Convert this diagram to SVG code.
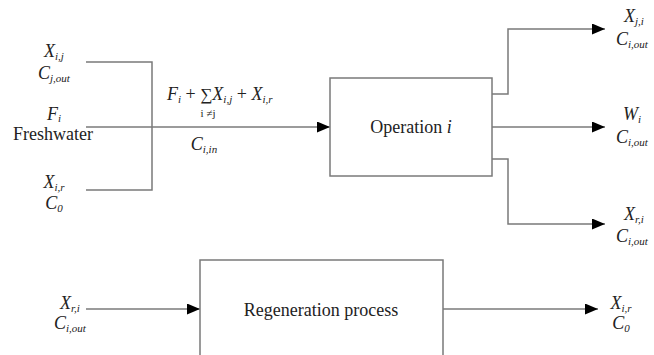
<svg xmlns="http://www.w3.org/2000/svg" width="654" height="355" viewBox="0 0 654 355">
<defs>
<marker id="ah" viewBox="0 0 13 11" refX="13" refY="5.5" markerWidth="13" markerHeight="11" markerUnits="userSpaceOnUse" orient="auto">
<path d="M0,0 L13,5.5 L0,11 Z" fill="#000"/>
</marker>
<style>
.ln{fill:none;stroke:#7a7a7a;stroke-width:1.5}
.bx{fill:#fff;stroke:#7a7a7a;stroke-width:1.5}
text{font-family:"Liberation Serif","Times New Roman",serif;fill:#222}
.v{font-size:18px;font-style:italic;text-anchor:middle}
.n{font-size:18px;text-anchor:middle}
.s{font-size:11px}
</style>
</defs>
<rect width="654" height="355" fill="#fff"/>
<g id="connectors">
<polyline class="ln" points="86,62 152,62 152,190 86,190"/>
<line class="ln" x1="86" y1="127" x2="330" y2="127" marker-end="url(#ah)"/>
<polyline class="ln" points="492,94 508,94 508,29 605,29" marker-end="url(#ah)"/>
<line class="ln" x1="492" y1="127" x2="605" y2="127" marker-end="url(#ah)"/>
<polyline class="ln" points="492,159 508,159 508,224 605,224" marker-end="url(#ah)"/>
<line class="ln" x1="86" y1="309" x2="200" y2="309" marker-end="url(#ah)"/>
<line class="ln" x1="443" y1="309" x2="598" y2="309" marker-end="url(#ah)"/>
</g>
<g id="operation">
<rect class="bx" x="330" y="78" width="162" height="98"/>
<text class="n" x="411" y="133">Operation <tspan font-style="italic">i</tspan></text>
</g>
<g id="regeneration">
<path class="ln" d="M200,357 L200,260 L443,260 L443,357"/>
<text class="n" x="321" y="316">Regeneration process</text>
</g>
<g id="inputs">
<text class="v" x="54" y="57">X<tspan class="s" dy="3">i,j</tspan></text>
<text class="v" x="54" y="79">C<tspan class="s" dy="3">j,out</tspan></text>
<text class="v" x="54" y="120">F<tspan class="s" dy="2">i</tspan></text>
<text class="n" x="53" y="140">Freshwater</text>
<text class="v" x="54" y="188">X<tspan class="s" dy="3">i,r</tspan></text>
<text class="v" x="54" y="209">C<tspan class="s" dy="3">0</tspan></text>
</g>
<g id="mix">
<text font-size="18" x="167" y="100"><tspan font-style="italic">F</tspan><tspan class="s" font-style="italic" dy="3">i</tspan><tspan dy="-3"> + </tspan><tspan font-size="17">∑</tspan><tspan font-style="italic">X</tspan><tspan class="s" font-style="italic" dy="3">i,j</tspan><tspan dy="-3"> + </tspan><tspan font-style="italic">X</tspan><tspan class="s" font-style="italic" dy="3">i,r</tspan></text>
<text font-size="11" x="208" y="117" text-anchor="middle">i ≠j</text>
<text class="v" x="204" y="150">C<tspan class="s" dy="3">i,in</tspan></text>
</g>
<g id="outputs">
<text class="v" x="634" y="22">X<tspan class="s" dy="3">j,i</tspan></text>
<text class="v" x="632" y="45">C<tspan class="s" dy="3">i,out</tspan></text>
<text class="v" x="632" y="120">W<tspan class="s" dy="3">i</tspan></text>
<text class="v" x="632" y="143">C<tspan class="s" dy="3">i,out</tspan></text>
<text class="v" x="634" y="220">X<tspan class="s" dy="3">r,i</tspan></text>
<text class="v" x="632" y="242">C<tspan class="s" dy="3">i,out</tspan></text>
</g>
<g id="regen-labels">
<text class="v" x="70" y="309">X<tspan class="s" dy="3">r,i</tspan></text>
<text class="v" x="70" y="329">C<tspan class="s" dy="3">i,out</tspan></text>
<text class="v" x="621" y="309">X<tspan class="s" dy="3">i,r</tspan></text>
<text class="v" x="621" y="329">C<tspan class="s" dy="3">0</tspan></text>
</g>
</svg>
